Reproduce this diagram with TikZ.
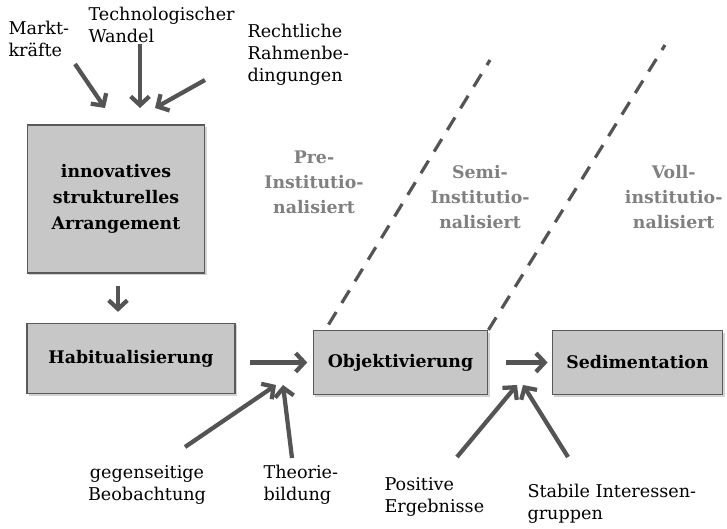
\documentclass[tikz,border=0pt]{standalone}
\usepackage{fontspec}
\setmainfont{DejaVu Serif}
\usetikzlibrary{arrows.meta,shadows}

\begin{document}
\begin{tikzpicture}[x=0.75pt,y=-0.75pt,>={Straight Barb[length=6.5pt,width=14pt]},
		thick,
		phase/.style={draw=black!65,line width=0.9pt,fill=black!22,font=\bfseries\fontsize{13}{19.5}\selectfont,
			align=center,drop shadow={shadow xshift=1.5pt,shadow yshift=-1.5pt,opacity=0.35}},
		factor/.style={inner sep=0pt,align=left,font=\fontsize{13.2}{16.5}\selectfont},
		stage/.style={inner sep=0pt,align=center,text=black!50,font=\bfseries\fontsize{13}{18.75}\selectfont},
		flow/.style={->,color=black!67,line width=3.2pt},
		border/.style={draw=black!67,line width=2.4pt,dash pattern=on 11pt off 8pt}]
		\useasboundingbox (0,0) rectangle (727,528);
		% Phasen
		\node[phase,minimum width=133pt,minimum height=111pt] (arr) at (116,199) {innovatives\\strukturelles\\Arrangement};
		\node[phase,minimum width=156pt,minimum height=53pt] (hab) at (131,358.5) {Habitualisierung};
		\node[phase,minimum width=131pt,minimum height=48pt] (obj) at (400.5,362.5) {Objektivierung};
		\node[phase,minimum width=128pt,minimum height=48pt] (sed) at (637.5,362.5) {Sedimentation};
		% Einflussfaktoren
		\node[factor,anchor=north west] (mk) at (8,21) {Markt-\\kräfte};
		\node[factor,anchor=north west] (tw) at (88,7) {Technologischer\\Wandel};
		\node[factor,anchor=north west] (rb) at (247,24) {Rechtliche\\Rahmenbe-\\dingungen};
		\node[factor,anchor=north,align=center] (gb) at (147,465) {gegenseitige\\Beobachtung};
		\node[factor,anchor=north west] (tb) at (263,465) {Theorie-\\bildung};
		\node[factor,anchor=north west] (pe) at (384,477) {Positive\\Ergebnisse};
		\node[factor,anchor=north west] (si) at (527,484) {Stabile Interessen-\\gruppen};
		% Institutionalisierungsgrad
		\node[stage,anchor=north] (pre) at (314,150) {Pre-\\Institutio-\\nalisiert};
		\node[stage,anchor=north] (semi) at (480,165) {Semi-\\Institutio-\\nalisiert};
		\node[stage,anchor=north east] (voll) at (723,165) {Voll-\\institutio-\\nalisiert};
		% Spitzen
		\coordinate (t1) at (105,108);
		\coordinate (t2) at (140,108);
		\coordinate (t3) at (155,108);
		\coordinate (t4) at (276,385);
		\coordinate (t5) at (283,385);
		\coordinate (t6) at (517,385);
		\coordinate (t7) at (523,385);
		\coordinate (d1) at (490,60);
		\coordinate (d2) at (665,45);
		\path[flow]
		(75,64) edge (t1)
		(tw.south -| t2) edge (t2)
		(205,80) edge (t3)
		([yshift=-9pt]arr.south -| 118,0) edge ([yshift=8pt]hab.north -| 118,0)
		([xshift=11pt]hab.east |- obj) edge ([xshift=-4pt]obj.west)
		([xshift=13pt]obj.east) edge ([xshift=-3pt]sed.west)
		(185,447) edge (t4)
		(292,458) edge (t5)
		(457,457) edge (t6)
		(568,457) edge (t7);
		\draw[border] ([xshift=12pt,yshift=4pt]obj.north west) -- (d1);
		\draw[border] (obj.north east) -- (d2);
		\end{tikzpicture}
\end{document}
